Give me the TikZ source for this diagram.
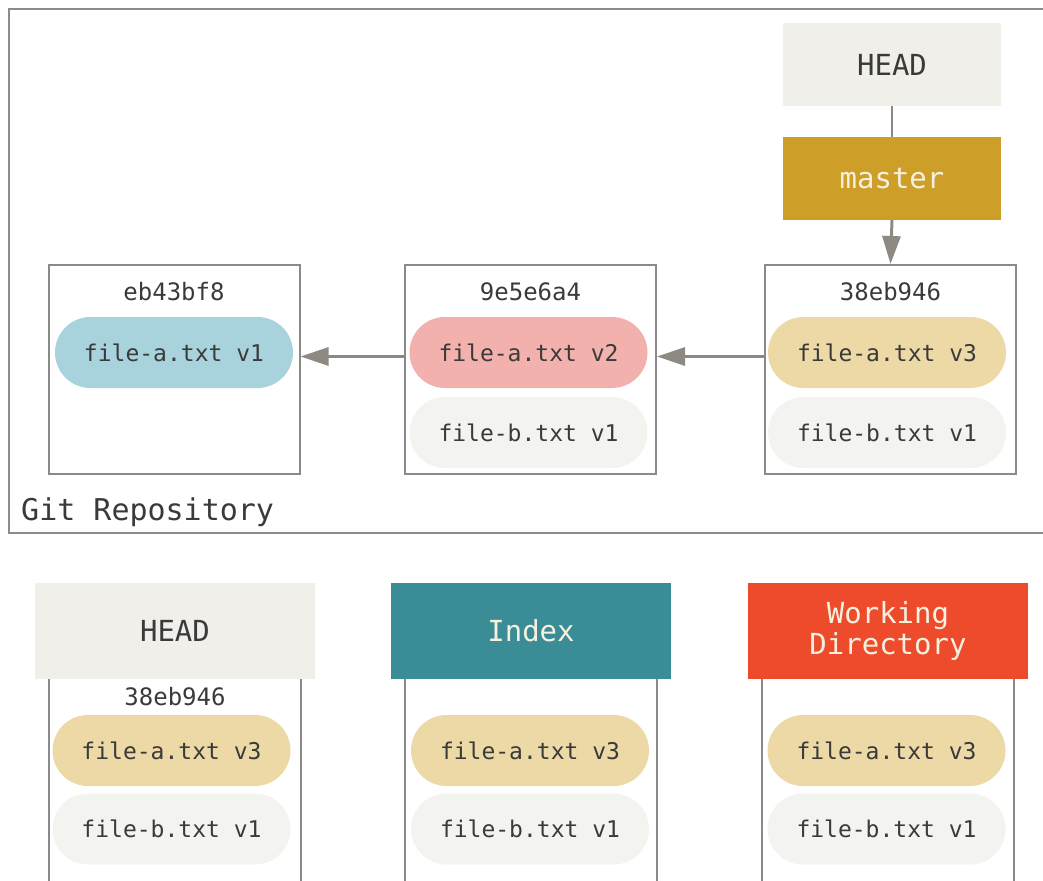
\documentclass[tikz,border=0pt]{standalone}
\usepackage{fontspec}
\newfontfamily\mono{DejaVu Sans Mono}
\usetikzlibrary{arrows.meta,shapes.misc}
\definecolor{framegray}{HTML}{8C8C8C}
\definecolor{boxgray}{HTML}{8A8A8A}
\definecolor{arrowgray}{HTML}{8E8A83}
\definecolor{headfill}{HTML}{F0EFEA}
\definecolor{gold}{HTML}{CD9E28}
\definecolor{bluepill}{HTML}{A8D2DC}
\definecolor{pinkpill}{HTML}{F2B1AC}
\definecolor{yellowpill}{HTML}{ECD9A6}
\definecolor{graypill}{HTML}{F3F3F0}
\definecolor{teal}{HTML}{3A8C97}
\definecolor{redhdr}{HTML}{EE4B2D}
\definecolor{textdark}{HTML}{3A3A3A}
\definecolor{cream}{HTML}{F6F0DE}
\begin{document}
\begin{tikzpicture}[x=1pt,y=-1pt,
  reftag/.style={rectangle,minimum width=218pt,minimum height=83pt,inner sep=0pt,
    font=\mono\fontsize{29}{33}\selectfont},
  commit/.style={rectangle,draw=boxgray,line width=2pt,minimum width=251pt,minimum height=209pt,inner sep=0pt},
  hash/.style={inner sep=0pt,text=textdark,font=\mono\fontsize{24}{28}\selectfont},
  pill/.style={rounded rectangle,minimum width=238pt,minimum height=71pt,inner sep=0pt,
    text=textdark,font=\mono\fontsize{23}{27}\selectfont},
  hdr/.style={rectangle,minimum width=280pt,minimum height=96pt,inner sep=0pt,align=center,
    font=\mono\fontsize{29}{31}\selectfont},
  arr/.style={draw=arrowgray,line width=3pt,-{Triangle[length=28pt,width=18pt]}},
  col/.style={draw=boxgray,line width=2pt}]
\useasboundingbox (0,0) rectangle (1043,880);
\clip (0,0) rectangle (1043,880);
% repository frame
\node[rectangle,draw=framegray,line width=2pt,minimum width=1050pt,minimum height=524pt,inner sep=0pt,anchor=north west] (repo) at (8,8) {};
\node[anchor=west,inner sep=0pt,text=textdark,font=\mono\fontsize{30}{34}\selectfont] (repolabel) at (21,512) {Git Repository};
% refs
\node[reftag,fill=headfill,text=textdark] (headT) at (892,64.5) {HEAD};
\node[reftag,fill=gold,text=cream] (master) at (892,178.5) {master};
% commits
\node[commit] (c1) at (174,369.5) {};
\node[commit] (c2) at (530.5,369.5) {};
\node[commit] (c3) at (890.5,369.5) {};
\node[hash] (h1) at (174,292) {eb43bf8};
\node[hash] (h2) at (530.5,292) {9e5e6a4};
\node[hash] (h3) at (890.5,292) {38eb946};
\node[pill,fill=bluepill] (a1) at (174,352.5) {file-a.txt v1};
\node[pill,fill=pinkpill] (a2) at (528.5,352.5) {file-a.txt v2};
\node[pill,fill=graypill] (b2) at (528.5,432.5) {file-b.txt v1};
\node[pill,fill=yellowpill] (a3) at (887,352.5) {file-a.txt v3};
\node[pill,fill=graypill] (b3) at (887,432.5) {file-b.txt v1};
% connectors
\draw[draw=arrowgray,line width=2pt] (headT.south) -- (master.north);
\draw[arr] (master.south) -- (c3.north);
\draw[arr] ([yshift=13pt]c2.west) -- ([yshift=13pt]c1.east);
\draw[arr] ([yshift=13pt]c3.west) -- ([yshift=13pt]c2.east);
% bottom: three areas
\node[hdr,fill=headfill,text=textdark] (hH) at (175,631) {HEAD};
\node[hdr,fill=teal,text=cream] (hI) at (531,631) {Index};
\node[hdr,fill=redhdr,text=cream] (hW) at (888,631) {Working\\Directory};
\foreach \n in {hH,hI,hW}{
  \draw[col] ([xshift=14pt]\n.south west) -- ++(0,220);
  \draw[col] ([xshift=-14pt]\n.south east) -- ++(0,220);
}
\node[hash] (hb) at (175,697) {38eb946};
\node[pill,fill=yellowpill] (ha) at (171.5,750.5) {file-a.txt v3};
\node[pill,fill=graypill] (hbf) at (171.5,829) {file-b.txt v1};
\node[pill,fill=yellowpill] (ia) at (530,750.5) {file-a.txt v3};
\node[pill,fill=graypill] (ib) at (530,829) {file-b.txt v1};
\node[pill,fill=yellowpill] (wa) at (886.5,750.5) {file-a.txt v3};
\node[pill,fill=graypill] (wb) at (886.5,829) {file-b.txt v1};
\end{tikzpicture}
\end{document}
